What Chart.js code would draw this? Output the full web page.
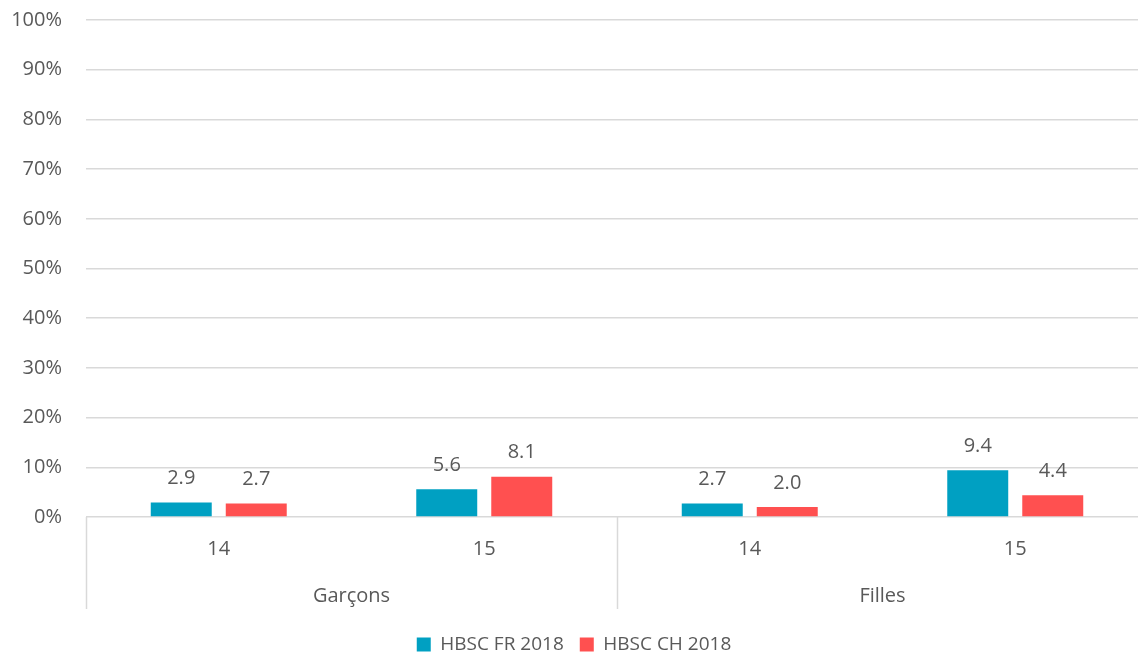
<!DOCTYPE html>
<html>
<head>
<meta charset="utf-8">
<script src="https://cdn.jsdelivr.net/npm/chart.js@4/dist/chart.umd.min.js"></script>
<style>
  html, body { margin: 0; padding: 0; background: #fff; overflow: hidden; }
  #wrap { position: relative; width: 1148px; height: 680px; margin-top: -16px; }
</style>
</head>
<body>
<div id="wrap"><canvas id="c"></canvas></div>
<script>
// Age categories, grouped by sex
const ages = ['14', '15', '14', '15'];
const groups = ['Garçons', 'Filles'];

// Share (%) per series
const seriesNames = ['HBSC FR 2018', 'HBSC CH 2018'];
const frValues = [2.9, 5.6, 2.7, 9.4];
const chValues = [2.7, 8.1, 2.0, 4.4];

// Y axis tick values
const yTicks = [0, 10, 20, 30, 40, 50, 60, 70, 80, 90, 100];

const TEXT = '#595959';
const GRID = '#d9d9d9';
const FONT = "'Open Sans', sans-serif";

// Writes each bar's value above it
const valueLabels = {
  id: 'valueLabels',
  afterDatasetsDraw(chart) {
    const ctx = chart.ctx;
    ctx.save();
    ctx.font = '20px ' + FONT;
    ctx.fillStyle = TEXT;
    ctx.textAlign = 'center';
    ctx.textBaseline = 'middle';
    chart.data.datasets.forEach((ds, i) => {
      chart.getDatasetMeta(i).data.forEach((bar, j) => {
        ctx.fillText(ds.data[j].toFixed(1), bar.x, bar.y - 24);
      });
    });
    ctx.restore();
  }
};

// Vertical separators between the Garçons / Filles groups under the axis
const groupSeparators = {
  id: 'groupSeparators',
  afterDraw(chart) {
    const x = chart.scales.x;
    const y = chart.scales.y;
    const ctx = chart.ctx;
    const half = (x.getPixelForValue(1) - x.getPixelForValue(0)) / 2;
    const xs = [x.getPixelForValue(0) - half, (x.getPixelForValue(1) + x.getPixelForValue(2)) / 2, x.getPixelForValue(3) + half];
    const top = y.getPixelForValue(0);
    ctx.save();
    ctx.strokeStyle = GRID;
    ctx.lineWidth = 1.5;
    xs.forEach(px => {
      ctx.beginPath();
      ctx.moveTo(Math.round(px) + 0.5, top);
      ctx.lineTo(Math.round(px) + 0.5, top + 92);
      ctx.stroke();
    });
    ctx.restore();
  }
};

new Chart(document.getElementById('c'), {
  type: 'bar',
  data: {
    labels: ages,
    datasets: [
      { label: seriesNames[0], data: frValues, backgroundColor: '#00A0C2', xAxisID: 'x' },
      { label: seriesNames[1], data: chValues, backgroundColor: '#FF5050', xAxisID: 'x' }
    ]
  },
  options: {
    responsive: true,
    maintainAspectRatio: false,
    animation: false,
    devicePixelRatio: 1,
    categoryPercentage: 0.565,
    barPercentage: 0.813,
    layout: { padding: { top: -9, left: 0, right: 0, bottom: 0 } },
    plugins: {
      legend: {
        position: 'bottom',
        labels: {
          font: { family: FONT, size: 19 },
          color: TEXT,
          boxWidth: 14,
          boxHeight: 14,
          padding: 16
        }
      },
      tooltip: { enabled: false }
    },
    scales: {
      y: {
        min: 0,
        max: 100,
        afterBuildTicks(scale) { scale.ticks = yTicks.map(v => ({ value: v })); },
        afterFit(scale) { scale.width = 86; },
        ticks: {
          font: { family: FONT, size: 20 },
          color: TEXT,
          padding: 24,
          callback: v => v + '%'
        },
        grid: { color: GRID, lineWidth: 1.5, drawTicks: false },
        border: { display: false }
      },
      x: {
        position: 'bottom',
        afterFit(scale) { scale.height = 51; },
        ticks: { font: { family: FONT, size: 20 }, color: TEXT, padding: 12 },
        grid: { display: false },
        border: { display: false }
      },
      group: {
        type: 'category',
        position: 'bottom',
        labels: groups,
        afterFit(scale) { scale.height = 51; },
        ticks: { font: { family: FONT, size: 20 }, color: TEXT, padding: 8 },
        grid: { display: false },
        border: { display: false }
      }
    }
  },
  plugins: [valueLabels, groupSeparators]
});
</script>
</body>
</html>
